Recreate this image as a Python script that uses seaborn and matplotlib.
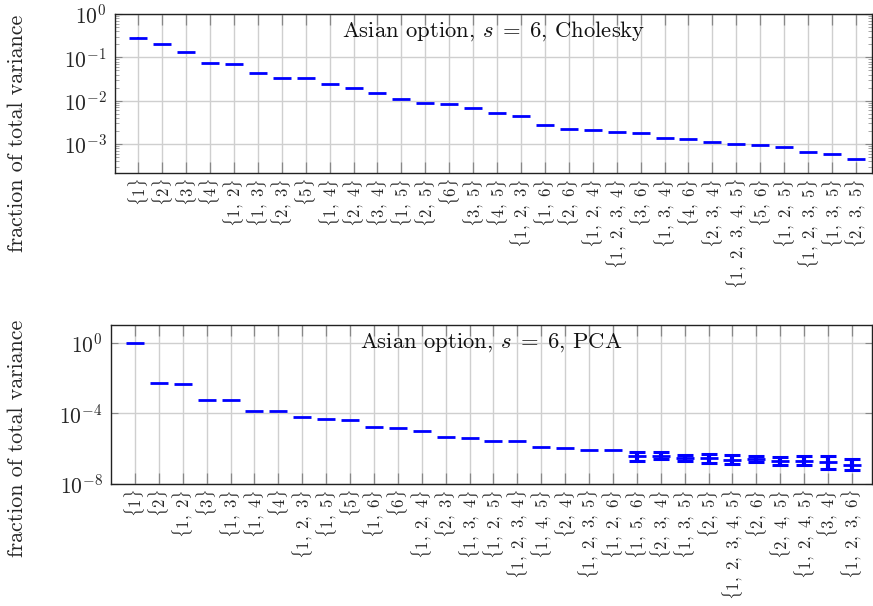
import numpy as np
import pandas as pd
import matplotlib
matplotlib.use("Agg")
import matplotlib.pyplot as plt
import seaborn as sns
from matplotlib.ticker import LogLocator, LogFormatterMathtext, NullFormatter, NullLocator

# ---------------- data ----------------
chol_sets = ["{1}", "{2}", "{3}", "{4}", "{1, 2}", "{1, 3}", "{2, 3}", "{5}", "{1, 4}",
             "{2, 4}", "{3, 4}", "{1, 5}", "{2, 5}", "{6}", "{3, 5}", "{4, 5}", "{1, 2, 3}",
             "{1, 6}", "{2, 6}", "{1, 2, 4}", "{1, 2, 3, 4}", "{3, 6}", "{1, 3, 4}", "{4, 6}",
             "{2, 3, 4}", "{1, 2, 3, 4, 5}", "{5, 6}", "{1, 2, 5}", "{1, 2, 3, 5}", "{1, 3, 5}",
             "{2, 3, 5}"]
chol_vals = [0.28, 0.20, 0.132, 0.075, 0.0685, 0.044, 0.034, 0.033, 0.0245, 0.0194, 0.0151,
             0.011, 0.0087, 0.0083, 0.0068, 0.0051, 0.0044, 0.0028, 0.00223, 0.00215, 0.00187,
             0.00174, 0.0014, 0.0013, 0.0011, 0.00102, 0.00093, 0.00087, 0.00065, 0.00057,
             0.00046]
chol_lo = [0.26] + chol_vals[1:]
chol_hi = [0.30] + chol_vals[1:]

pca_sets = ["{1}", "{2}", "{1, 2}", "{3}", "{1, 3}", "{1, 4}", "{4}", "{1, 2, 3}", "{1, 5}",
            "{5}", "{1, 6}", "{6}", "{1, 2, 4}", "{2, 3}", "{1, 3, 4}", "{1, 2, 5}",
            "{1, 2, 3, 4}", "{1, 4, 5}", "{2, 4}", "{1, 2, 3, 5}", "{1, 2, 6}", "{1, 5, 6}",
            "{2, 3, 4}", "{1, 3, 5}", "{2, 5}", "{1, 2, 3, 4, 5}", "{2, 6}", "{2, 4, 5}",
            "{1, 2, 4, 5}", "{3, 4}", "{1, 2, 3, 6}"]
pca_vals = [1.0, 5.3e-3, 4.9e-3, 5.7e-4, 5.7e-4, 1.4e-4, 1.35e-4, 5.9e-5, 4.6e-5, 4.2e-5,
            1.66e-5, 1.53e-5, 1.0e-5, 4.6e-6, 3.8e-6, 2.7e-6, 2.7e-6, 1.23e-6, 1.12e-6,
            8.3e-7, 7.9e-7, 3.6e-7, 3.8e-7, 2.95e-7, 2.8e-7, 2.35e-7, 2.6e-7, 2.05e-7,
            2.05e-7, 1.66e-7, 1.22e-7]
pca_lo = pca_vals[:21] + [2.0e-7, 2.45e-7, 2.0e-7, 1.58e-7, 1.33e-7, 1.74e-7, 1.22e-7,
                          1.12e-7, 7.2e-8, 6.0e-8]
pca_hi = pca_vals[:21] + [6.6e-7, 6.2e-7, 4.5e-7, 4.9e-7, 4.2e-7, 3.8e-7, 3.5e-7,
                          3.8e-7, 3.8e-7, 2.45e-7]

titles = [r"Asian option, $s\;=\;6$, Cholesky", r"Asian option, $s\;=\;6$, PCA"]
ylabel = "fraction of total variance"

# ---------------- style ----------------
sns.set_theme(style="whitegrid")
plt.rcParams["font.family"] = ["cmr10", "DejaVu Serif"]
plt.rcParams["mathtext.fontset"] = "cm"
plt.rcParams["axes.formatter.use_mathtext"] = True
plt.rcParams["axes.unicode_minus"] = False

BLUE = "#0000ff"


def tex_label(s):
    inner = s[1:-1].replace(", ", r",\ ")
    return r"$\{" + inner + r"\}$"


fig = plt.figure(figsize=(8.73, 6.06), dpi=100)
W, H = 873.0, 606.0
ax1 = fig.add_axes([115 / W, 1 - 173 / H, (872 - 115) / W, 159 / H])
ax2 = fig.add_axes([111 / W, 1 - 483.7 / H, (872 - 111) / W, 158.7 / H])


def draw(ax, sets, vals, lo, hi, title, ylim, xlim, major, minor, cap, ty):
    df = pd.DataFrame({"set": sets, "val": vals, "lo": lo, "hi": hi})
    df["pos"] = np.arange(len(df))
    ax.set_yscale("log")
    sns.scatterplot(data=df, x="pos", y="val", marker="_", s=150, linewidth=2.0,
                    color=BLUE, ax=ax, zorder=4, legend=False)
    e = df[df["hi"] > df["lo"]]
    ax.errorbar(e["pos"], e["val"], yerr=[e["val"] - e["lo"], e["hi"] - e["val"]],
                fmt="none", ecolor=BLUE, elinewidth=3.0 if cap else 1.2,
                capsize=cap, capthick=2.2, zorder=5)
    ax.set_xlim(*xlim)
    ax.set_ylim(*ylim)
    ax.set_xticks(df["pos"])
    ax.set_xticklabels([tex_label(s) for s in sets], rotation=90, fontsize=12,
                       va="top", ha="center")
    ax.set_yticks(major)
    ax.yaxis.set_major_formatter(LogFormatterMathtext())
    if minor:
        ax.yaxis.set_minor_locator(LogLocator(base=10, subs=np.arange(2, 10), numticks=20))
        ax.yaxis.set_minor_formatter(NullFormatter())
    else:
        ax.yaxis.set_minor_locator(NullLocator())
    ax.tick_params(axis="y", which="major", labelsize=15.5, direction="in", length=5,
                   width=0.8, color="#888888", left=True, right=True, pad=6)
    ax.tick_params(axis="y", which="minor", direction="in", length=3, width=0.6,
                   color="#999999", left=True, right=True)
    ax.tick_params(axis="x", which="major", direction="in", length=8, width=0.9,
                   color="#888888", bottom=True, top=True, pad=4)
    ax.grid(True, which="major", color="#cfcfcf", linewidth=1.0)
    ax.grid(False, which="minor")
    for sp in ax.spines.values():
        sp.set_color("#222222")
        sp.set_linewidth(1.0)
    ax.set_xlabel("")
    ax.set_ylabel(ylabel, fontsize=15.8)
    ax.text(0.5, ty, title, transform=ax.transAxes, ha="center", va="center",
            fontsize=16.3, color="#111111", zorder=6)


draw(ax1, chol_sets, chol_vals, chol_lo, chol_hi, titles[0],
     (2.13e-4, 1.0), (-0.97, 30.67), [1e-3, 1e-2, 1e-1, 1e0], True, 0, 0.893)
draw(ax2, pca_sets, pca_vals, pca_lo, pca_hi, titles[1],
     (1e-8, 10 ** 1.02), (-1.0, 30.84), [1e-8, 1e-4, 1e0], False, 5.5, 0.886)

ax1.yaxis.set_label_coords(-0.116, 0.25)
ax2.yaxis.set_label_coords(-0.110, 0.288)

fig.savefig("out.png", dpi=100)
